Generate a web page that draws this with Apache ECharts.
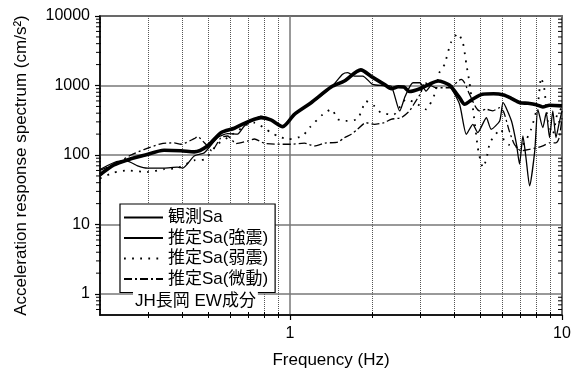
<!DOCTYPE html>
<html>
<head>
    <meta charset="UTF-8">
    <title>JH長岡 EW成分</title>
    <style>
        html, body { margin: 0; padding: 0; background: #fff; }
    </style>
</head>
<body>
    <div id="main" style="width:572px;height:370px"></div>

    <script src="https://cdn.jsdelivr.net/npm/echarts@6/dist/echarts.min.js"></script>
    <script>
        // 観測・推定の加速度応答スペクトル [周波数Hz, cm/s2]
        var obsSa = [[0.2,52],[0.225,72],[0.252,85],[0.291,99],[0.344,117],[0.397,115],[0.444,111],[0.497,135],
            [0.557,210],[0.624,243],[0.679,286],[0.739,327],[0.782,345],[0.85,320],[0.94,256],[1.037,385],
            [1.195,566],[1.416,951],[1.584,1162],[1.82,1680],[2.0,1330],[2.22,1040],[2.36,900],[2.5,960],
            [2.62,950],[2.75,820],[3.0,900],[3.25,1040],[3.5,1160],[3.85,1017],[4.2,668],[4.38,537],[4.7,640],
            [5.1,748],[5.6,760],[6.1,730],[6.5,655],[7.0,566],[7.5,555],[8.05,530],[8.5,491],[9.0,520],[10,510]];
        var estStrong = [[0.2,62],[0.235,82],[0.252,82],[0.275,70],[0.299,65],[0.344,65],[0.385,67],[0.403,65],
            [0.444,97],[0.484,108],[0.541,178],[0.589,203],[0.641,200],[0.679,262],[0.739,327],[0.78,364],
            [0.85,320],[0.927,256],[1.037,385],[1.2,560],[1.42,951],[1.56,1450],[1.63,1528],[1.725,1369],
            [1.85,1369],[2.01,1040],[2.2,1000],[2.35,984],[2.53,431],[2.65,700],[2.83,1096],[3.0,1096],
            [3.16,834],[3.35,1096],[3.54,1162],[3.86,984],[4.2,537],[4.45,199],[4.7,277],[4.9,210],[5.27,344],
            [5.49,235],[5.9,309],[6.07,566],[6.52,309],[6.8,143],[6.98,74],[7.18,188],[7.37,92],[7.6,36],
            [7.94,115],[8.15,455],[8.5,248],[8.75,407],[9.0,178],[9.25,432],[9.5,178],[9.77,292],[10,432]];
        var estWeak = [[0.2,46],[0.225,56],[0.252,60],[0.299,57],[0.344,62.5],[0.385,65],[0.444,84],[0.484,87],
            [0.541,143],[0.589,178],[0.698,277],[0.739,292],[0.851,210],[0.9,188],[0.98,169],[1.11,188],
            [1.18,248],[1.32,385],[1.42,455],[1.5,327],[1.6,309],[1.77,330],[1.85,480],[1.9,598],[2.04,508],
            [2.16,406],[2.4,380],[2.67,633],[2.9,560],[3.16,455],[3.4,748],[3.54,1528],[3.7,2018],[3.9,4120],
            [4.14,5600],[4.32,4120],[4.45,2018],[4.57,1096],[4.7,480],[4.9,128],[4.97,97],[5.12,66],[5.27,87],
            [5.43,150],[5.7,200],[5.98,235],[6.12,159],[6.4,140],[6.9,128],[7.28,150],[7.7,235],[8.15,537],
            [8.38,1294],[8.6,929],[8.87,309],[9.25,199],[9.6,385],[10,480]];
        var estMicro = [[0.2,60],[0.235,80],[0.26,100],[0.29,120],[0.335,145],[0.375,150],[0.397,143],[0.444,172],
            [0.457,183],[0.49,143],[0.515,115],[0.557,178],[0.589,188],[0.633,146],[0.698,159],[0.739,170],
            [0.804,148],[0.9,143],[1.01,143],[1.13,148],[1.23,135],[1.34,148],[1.5,154],[1.58,176],[1.68,199],
            [1.77,235],[1.9,292],[2.04,277],[2.22,292],[2.35,327],[2.56,344],[2.75,432],[2.9,598],[3.03,789],
            [3.12,1096],[3.45,929],[3.86,929],[4.26,1227],[4.38,1096],[4.57,748],[4.83,480],[4.97,432],
            [5.27,455],[5.57,432],[5.9,480],[6.1,420],[6.4,222],[6.68,143],[7.07,115],[7.6,121],[8.15,128],
            [8.5,135],[9.0,150],[9.5,150],[9.77,178],[10,340]];

        var seriesNames = ['観測Sa', '推定Sa(強震)', '推定Sa(弱震)', '推定Sa(微動)'];
        var xMinor = [0.3,0.4,0.5,0.6,0.7,0.8,0.9,2,3,4,5,6,7,8,9];
        var yMinor = [0.6,0.7,0.8,0.9,2,3,4,5,6,7,8,9,20,30,40,50,60,70,80,90,
            200,300,400,500,600,700,800,900,2000,3000,4000,5000,6000,7000,8000,9000];

        var font = "'Liberation Sans', 'Noto Sans CJK JP', sans-serif";

        var tickData = [];
        xMinor.forEach(function(v){ tickData.push([v, 1, 0]); });
        yMinor.forEach(function(v){ tickData.push([1, v, 1]); });

        /* 画图 */
        var app = echarts.init(document.getElementById('main'));
        var option = {
            animation: false,
            textStyle: {fontFamily: font, color: '#000'},
            title: {
                text: 'JH長岡 EW成分',
                left: 133, top: 291,
                padding: [2, 2],
                backgroundColor: '#fff',
                textStyle: {fontSize: 17, fontWeight: 'normal', color: '#000', fontFamily: font}
            },
            legend: {
                data: seriesNames,
                orient: 'vertical',
                left: 120, top: 204,
                padding: [5, 7, 5, 3],
                itemGap: 3.5,
                itemWidth: 39, itemHeight: 14,
                itemStyle: {opacity: 0},
                backgroundColor: '#fff',
                borderColor: '#000', borderWidth: 1.2, borderRadius: 0,
                textStyle: {fontSize: 17, color: '#000', fontFamily: font, lineHeight: 17}
            },
            grid: {
                left: 100, right: 10, top: 16, bottom: 55,
                outerBoundsMode: 'none',
                show: true, borderColor: '#000', borderWidth: 1.5
            },
            xAxis: {
                type: 'log', logBase: 10, min: 0.2, max: 10,
                name: 'Frequency (Hz)', nameLocation: 'middle', nameGap: 37,
                nameTextStyle: {fontSize: 17, color: '#000', fontFamily: font},
                axisLine: {show: true, lineStyle: {color: '#000', width: 1.5}},
                axisTick: {show: true, length: 5, lineStyle: {color: '#000', width: 1.2}},
                axisLabel: {fontSize: 16, color: '#000', margin: 11, showMinLabel: false,
                    formatter: function(v){ return String(Math.round(v)); }},
                splitLine: {show: true, lineStyle: {color: '#777', width: 1.5}}
            },
            yAxis: {
                type: 'log', logBase: 10, min: 0.5, max: 10000,
                name: 'Acceleration response spectrum (cm/s²)', nameLocation: 'middle', nameRotate: 90, nameGap: 70,
                nameTextStyle: {fontSize: 17, color: '#000', fontFamily: font},
                axisLine: {show: true, lineStyle: {color: '#000', width: 1.5}},
                axisTick: {show: true, length: 5, lineStyle: {color: '#000', width: 1.2}},
                axisLabel: {fontSize: 16, color: '#000', margin: 10, showMinLabel: false,
                    formatter: function(v){ return String(Math.round(v)); }},
                splitLine: {show: true, lineStyle: {color: '#777', width: 1.5}}
            },
            series: [
                {
                    name: 'ticks', type: 'custom', z: 1, silent: true,
                    data: tickData,
                    encode: {x: 0, y: 1},
                    renderItem: function(params, api){
                        var cs = params.coordSys;
                        if (api.value(2) === 0) {
                            var x = Math.round(api.coord([api.value(0), 1])[0]) + 0.5;
                            return {type: 'group', children: [
                                {type: 'line', shape: {x1: x, y1: cs.y, x2: x, y2: cs.y + cs.height},
                                    style: {stroke: '#555', lineWidth: 1, lineDash: [1, 1]}},
                                {type: 'line', shape: {x1: x, y1: cs.y + cs.height - 3, x2: x, y2: cs.y + cs.height + 3},
                                    style: {stroke: '#000', lineWidth: 1}}
                            ]};
                        }
                        var y = api.coord([1, api.value(1)])[1];
                        return {type: 'group', children: [
                            {type: 'line', shape: {x1: cs.x - 4, y1: y, x2: cs.x + 1, y2: y},
                                style: {stroke: '#000', lineWidth: 1}},
                            {type: 'line', shape: {x1: cs.x + cs.width - 4, y1: y, x2: cs.x + cs.width, y2: y},
                                style: {stroke: '#000', lineWidth: 1}}
                        ]};
                    }
                },
                {
                    name: seriesNames[0], type: 'line', data: obsSa, symbol: 'none', z: 5, smooth: 0.25,
                    itemStyle: {color: '#000'},
                    lineStyle: {color: '#000', width: 3.6}
                },
                {
                    name: seriesNames[1], type: 'line', data: estStrong, symbol: 'none', z: 4, smooth: 0.2,
                    itemStyle: {color: '#000'},
                    lineStyle: {color: '#000', width: 1.3}
                },
                {
                    name: seriesNames[2], type: 'line', data: estWeak, symbol: 'none', z: 3, smooth: 0.2,
                    itemStyle: {color: '#000'},
                    lineStyle: {color: '#000', width: 1.8, type: [1.8, 6.3]}
                },
                {
                    name: seriesNames[3], type: 'line', data: estMicro, symbol: 'none', z: 3, smooth: 0.2,
                    itemStyle: {color: '#000'},
                    lineStyle: {color: '#000', width: 1.3, type: [8, 3, 2, 3]}
                }
            ]
        };
        app.setOption(option);
        window.addEventListener('resize', function(){ app.resize(); });
    </script>
</body>
</html>
